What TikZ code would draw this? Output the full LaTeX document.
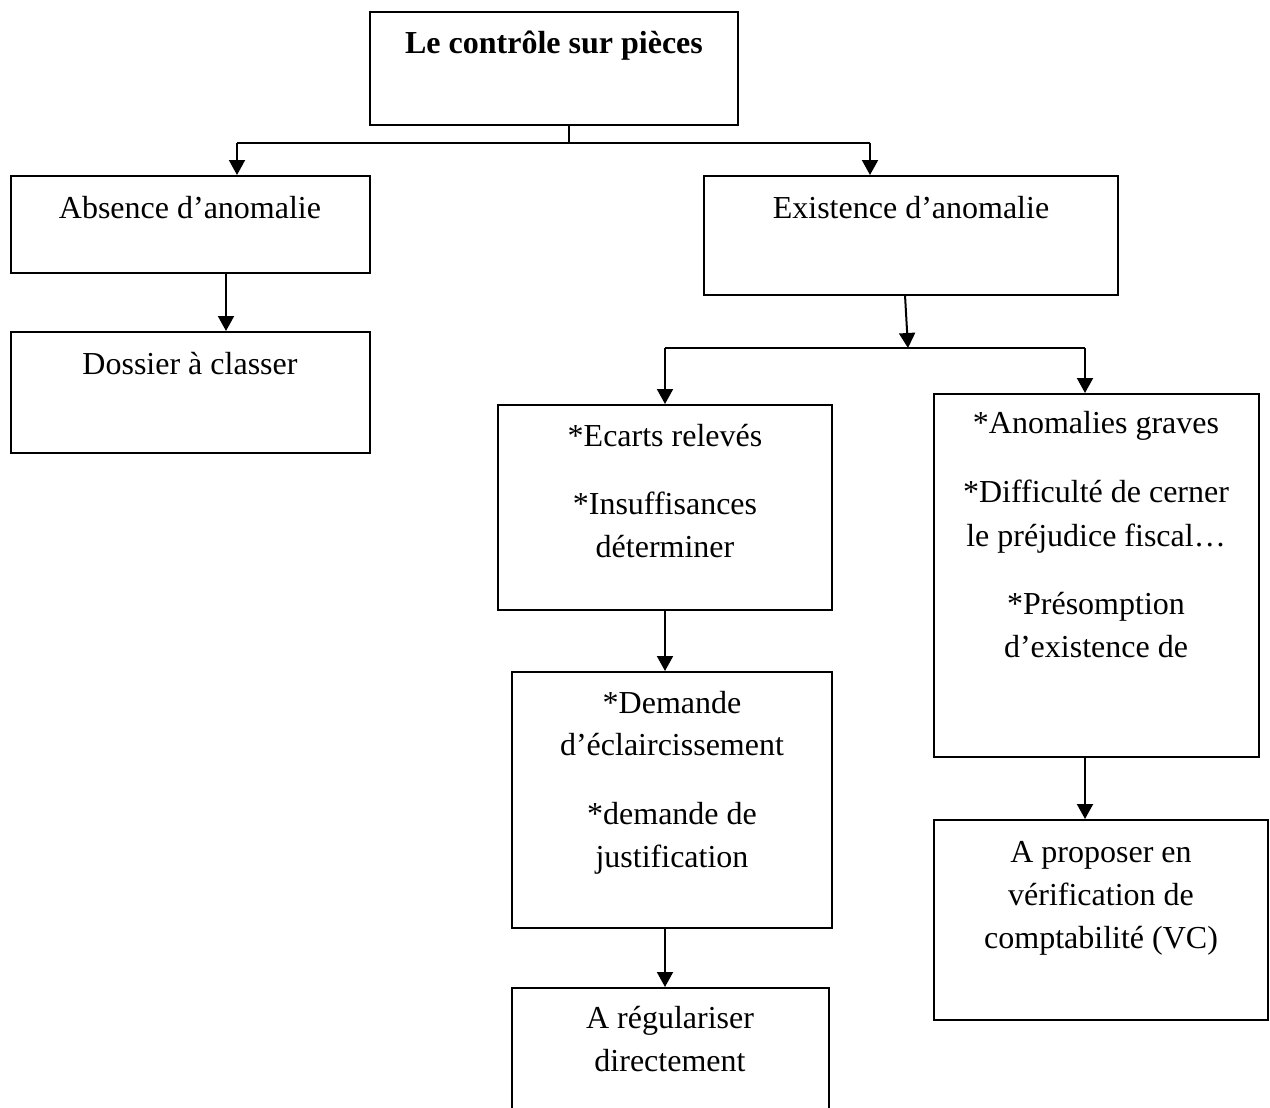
\documentclass[tikz,border=0pt]{standalone}
\usepackage{fontspec}
\setmainfont{Liberation Serif}
\usetikzlibrary{fit,arrows.meta}
\begin{document}
\begin{tikzpicture}[x=0.5pt,y=-0.5pt,
  box/.style={draw,line width=1pt,inner sep=0pt,rectangle},
  txt/.style={anchor=base,inner sep=0pt,font=\fontsize{16}{20}\selectfont},
  ttl/.style={txt,font=\fontsize{16}{20}\selectfont\bfseries},
  link/.style={line width=1pt},
  arr/.style={line width=1pt,-{Triangle[width=8pt,length=7.5pt]}}]
\useasboundingbox (0,0) rectangle (1270,1108);
\begin{scope}
\clip (0,0) rectangle (1270,1108);
% boxes
\node[box,fit={(370,12) (738,125)}] (title) {};
\node[box,fit={(11,176) (370,273)}] (abs) {};
\node[box,fit={(11,332) (370,453)}] (dos) {};
\node[box,fit={(704,176) (1118,295)}] (exi) {};
\node[box,fit={(498,405) (832,610)}] (eca) {};
\node[box,fit={(512,672) (832,928)}] (dem) {};
\node[box,fit={(512,988) (829,1140)}] (reg) {};
\node[box,fit={(934,394) (1259,757)}] (ano) {};
\node[box,fit={(934,820) (1268,1020)}] (vc) {};
% texts
\node[ttl] (t0) at (554,54) {Le contrôle sur pièces};
\node[txt] (t1) at (190,218) {Absence d’anomalie};
\node[txt] (t2) at (190,374) {Dossier à classer};
\node[txt] (t3) at (911,218) {Existence d’anomalie};
\node[txt] (t4a) at (665,446) {*Ecarts relevés};
\node[txt] (t4b) at (665,514) {*Insuffisances};
\node[txt] (t4c) at (665,557) {déterminer};
\node[txt] (t5a) at (672,713) {*Demande};
\node[txt] (t5b) at (672,755) {d’éclaircissement};
\node[txt] (t5c) at (672,824) {*demande de};
\node[txt] (t5d) at (672,867) {justification};
\node[txt] (t6a) at (670,1028) {A régulariser};
\node[txt] (t6b) at (670,1071) {directement};
\node[txt] (t7a) at (1096,433) {*Anomalies graves};
\node[txt] (t7b) at (1096,502) {*Difficulté de cerner};
\node[txt] (t7c) at (1096,546) {le préjudice fiscal…};
\node[txt] (t7d) at (1096,614) {*Présomption};
\node[txt] (t7e) at (1096,657) {d’existence de};
\node[txt] (t8a) at (1101,862) {A proposer en};
\node[txt] (t8b) at (1101,905) {vérification de};
\node[txt] (t8c) at (1101,948) {comptabilité (VC)};
% connectors
\coordinate (f0) at (569,143);
\coordinate (fa) at (237,143);
\coordinate (fe) at (870,143);
\draw[link] (f0 |- title.south) -- (f0);
\draw[link] (fa) -- (fe);
\draw[arr] (fa) -- (fa |- abs.north);
\draw[arr] (fe) -- (fe |- exi.north);
\coordinate (d1) at (226,0);
\draw[arr] (d1 |- abs.south) -- (d1 |- dos.north);
\coordinate (g0) at (905,295);
\coordinate (g1) at (908,348);
\coordinate (gl) at (665,348);
\coordinate (gr) at (1085,348);
\draw[arr] (g0) -- (g1);
\draw[link] (gl) -- (gr);
\draw[arr] (gl) -- (gl |- eca.north);
\draw[arr] (gr) -- (gr |- ano.north);
\draw[arr] (gl |- eca.south) -- (gl |- dem.north);
\draw[arr] (gl |- dem.south) -- (gl |- reg.north);
\draw[arr] (gr |- ano.south) -- (gr |- vc.north);
\end{scope}
\end{tikzpicture}
\end{document}
